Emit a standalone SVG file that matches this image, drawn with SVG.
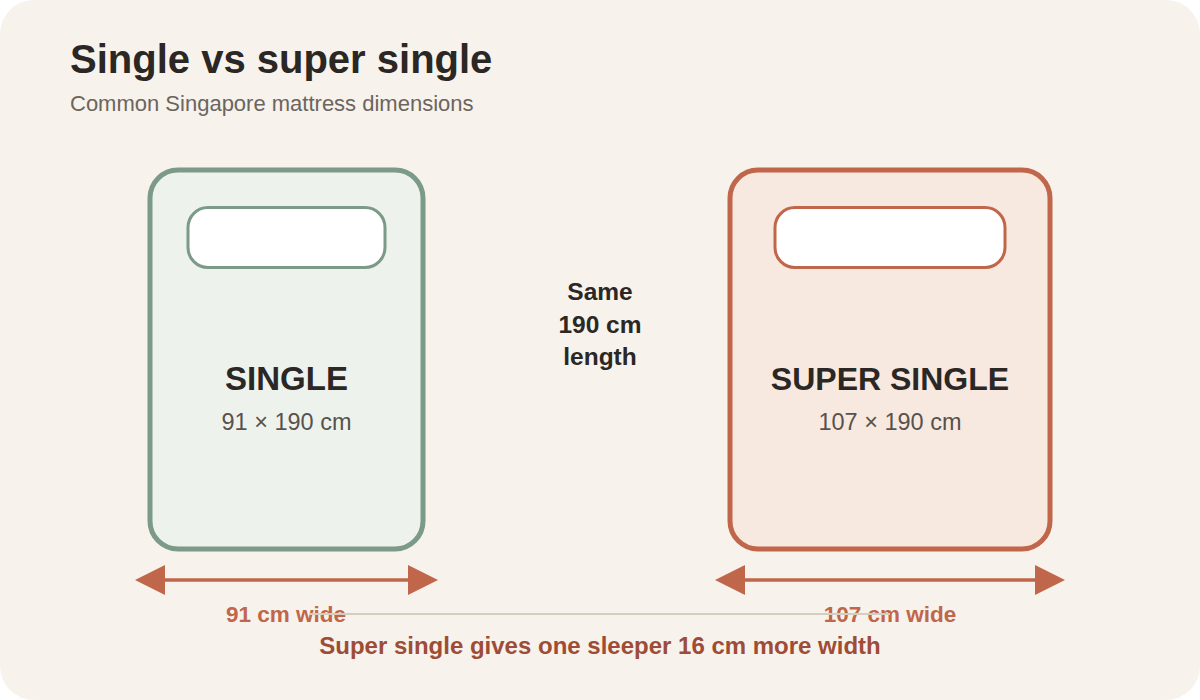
<svg xmlns="http://www.w3.org/2000/svg" width="1200" height="700" viewBox="0 0 1200 700">
<defs>
<style>
.t{font-family:"Liberation Sans",Arial,sans-serif}
.bed-s{fill:#eef2ed;stroke:#7b9a88;stroke-width:5}
.pil-s{fill:#ffffff;stroke:#7b9a88;stroke-width:3}
.bed-ss{fill:#f7e9e0;stroke:#c0664a;stroke-width:5}
.pil-ss{fill:#ffffff;stroke:#c0664a;stroke-width:3}
.name{font-size:33px;font-weight:bold;fill:#2b2724;text-anchor:middle}
.dim{font-size:23.5px;fill:#58524d;text-anchor:middle}
.wide{font-size:22.5px;font-weight:bold;fill:#c0664a;text-anchor:middle}
.mid{font-size:24.5px;font-weight:bold;fill:#2b2724;text-anchor:middle}
.arr{stroke:#c0664a;stroke-width:3.5;fill:none}
.head{fill:#c0664a}
</style>
</defs>
<rect x="0" y="0" width="1200" height="700" fill="#ffffff"/>
<rect x="0" y="0" width="1200" height="700" rx="34" fill="#f7f2eb"/>
<g id="title">
<text class="t" x="70" y="73" font-size="40" font-weight="bold" fill="#2b2724">Single vs super single</text>
<text class="t" x="70" y="111" font-size="22" fill="#6b6560">Common Singapore mattress dimensions</text>
</g>
<g id="single">
<rect class="bed-s" x="150" y="170" width="273" height="379" rx="28"/>
<rect class="pil-s" x="188" y="207.5" width="197" height="60" rx="20"/>
<text class="t name" x="286.5" y="390">SINGLE</text>
<text class="t dim" x="286.5" y="430">91 × 190 cm</text>
</g>
<g id="super-single">
<rect class="bed-ss" x="730" y="170" width="320" height="379" rx="28"/>
<rect class="pil-ss" x="775" y="207.5" width="230" height="60" rx="20"/>
<text class="t name" x="890" y="390" style="font-size:32px">SUPER SINGLE</text>
<text class="t dim" x="890" y="430">107 × 190 cm</text>
</g>
<g id="same-length">
<text class="t mid" x="600" y="300">Same</text>
<text class="t mid" x="600" y="333">190 cm</text>
<text class="t mid" x="600" y="365">length</text>
</g>
<g id="width-labels">
<text class="t wide" x="286" y="622">91 cm wide</text>
<text class="t wide" x="890" y="622">107 cm wide</text>
</g>
<g id="connectors">
<line class="arr" x1="163" y1="580" x2="410" y2="580"/>
<polygon class="head" points="135,580 165,565 165,595"/>
<polygon class="head" points="438,580 408,565 408,595"/>
<line class="arr" x1="743" y1="580" x2="1037" y2="580"/>
<polygon class="head" points="715,580 745,565 745,595"/>
<polygon class="head" points="1065,580 1035,565 1035,595"/>
<line x1="310" y1="614" x2="890" y2="614" stroke="#d6cdc1" stroke-width="2"/>
</g>
<g id="caption">
<text class="t" x="600" y="654" font-size="24" font-weight="bold" fill="#9e4c36" text-anchor="middle">Super single gives one sleeper 16 cm more width</text>
</g>
</svg>
